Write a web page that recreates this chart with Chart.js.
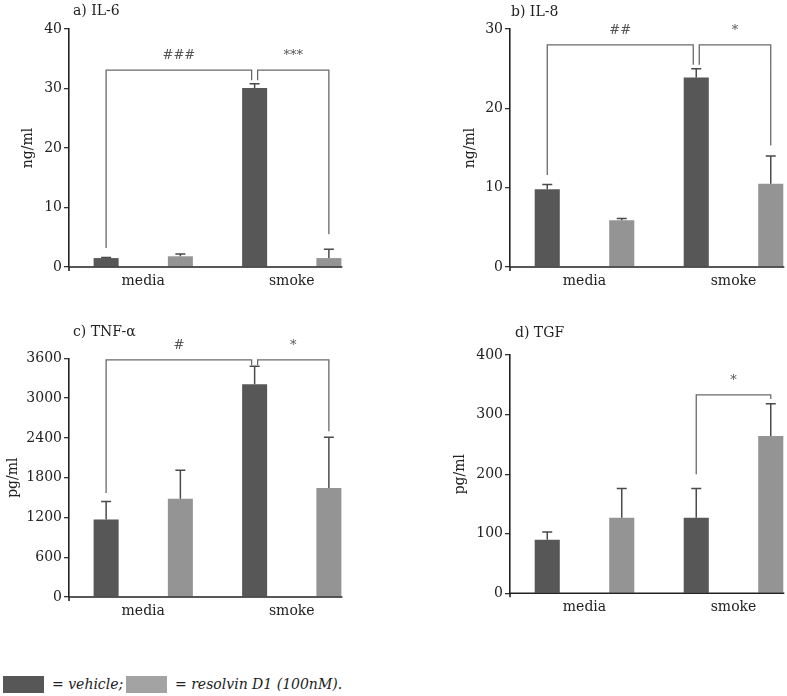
<!DOCTYPE html>
<html><head><meta charset="utf-8">
<script src="https://cdn.jsdelivr.net/npm/chart.js@4/dist/chart.umd.min.js"></script>
<style>
html,body{margin:0;padding:0;width:787px;height:696px;overflow:hidden;background:#fff;position:relative}
canvas{position:absolute}
#legend{position:absolute;left:0;top:676px;height:17px;font-family:"DejaVu Serif",serif;font-style:italic;font-size:14px;color:#222;white-space:nowrap}
#legend span.sw{position:absolute;top:0;height:17px;width:41px}
#legend span.tx{position:absolute;top:0;line-height:17px}
</style></head>
<body>
<canvas id="ca" width="395" height="312" style="left:0;top:0"></canvas>
<canvas id="cb" width="420" height="312" style="left:400px;top:0"></canvas>
<canvas id="cc" width="395" height="320" style="left:0;top:312px"></canvas>
<canvas id="cd" width="420" height="320" style="left:400px;top:312px"></canvas>
<div id="legend">
  <span class="sw" style="left:3px;background:#575757"></span><span class="tx" style="left:52px">= vehicle;</span>
  <span class="sw" style="left:126px;background:#a3a3a3"></span><span class="tx" style="left:175px">= resolvin D1 (100nM).</span>
</div>
<script>
// ---- data ----
const categories = ['media', 'smoke'];
const seriesNames = ['vehicle', 'resolvin D1 (100nM)'];

// a) IL-6 (ng/ml)
const il6Vehicle = [1.5, 30.1];
const il6VehicleSem = [0.1, 0.7];
const il6Resolvin = [1.8, 1.5];
const il6ResolvinSem = [0.4, 1.5];
// b) IL-8 (ng/ml)
const il8Vehicle = [9.8, 23.9];
const il8VehicleSem = [0.6, 1.1];
const il8Resolvin = [5.9, 10.5];
const il8ResolvinSem = [0.2, 3.5];
// c) TNF-α (pg/ml)
const tnfVehicle = [1170, 3210];
const tnfVehicleSem = [270, 270];
const tnfResolvin = [1480, 1645];
const tnfResolvinSem = [430, 765];
// d) TGF (pg/ml)
const tgfVehicle = [90, 127];
const tgfVehicleSem = [13, 49];
const tgfResolvin = [127, 264];
const tgfResolvinSem = [49, 54];

// y-axis ranges / tick steps
const yMaxes = [40, 30, 3600, 400];
const ySteps = [10, 10, 600, 100];
const titles = ['a) IL-6', 'b) IL-8', 'c) TNF-\u03b1', 'd) TGF'];
const units = ['ng/ml', 'ng/ml', 'pg/ml', 'pg/ml'];

// significance brackets: endpoints are [series, category]; heights in data units
const il6Brackets = [
  {label: '###', from: [0, 0], to: [0, 1], top: 33.1, fromEnd: 3.2, toEnd: 31.4},
  {label: '***', from: [0, 1], to: [1, 1], top: 33.1, fromEnd: 31.4, toEnd: 5.5}
];
const il8Brackets = [
  {label: '##', from: [0, 0], to: [0, 1], top: 28.0, fromEnd: 11.6, toEnd: 25.5},
  {label: '*', from: [0, 1], to: [1, 1], top: 28.0, fromEnd: 25.5, toEnd: 15.3}
];
const tnfBrackets = [
  {label: '#', from: [0, 0], to: [0, 1], top: 3575, fromEnd: 1570, toEnd: 3500},
  {label: '*', from: [0, 1], to: [1, 1], top: 3575, fromEnd: 3500, toEnd: 2500}
];
const tgfBrackets = [
  {label: '*', from: [0, 1], to: [1, 1], top: 333, fromEnd: 200, toEnd: 326}
];

// ---- layout / style ----
const FONT = '"DejaVu Serif", serif';
const DARK = '#575757', LIGHT = '#949494';
const layouts = [
  {id: 'ca', yw: 69, pad: {left: 0, top: 29, right: 29, bottom: 15}, xh: 30, titlePad: 19.6, tx: 73, ty: 11},
  {id: 'cb', yw: 110, pad: {left: 0, top: 29, right: 12, bottom: 15}, xh: 30, titlePad: 61.6, tx: 111, ty: 12},
  {id: 'cc', yw: 69, pad: {left: 0, top: 46.3, right: 29, bottom: 5}, xh: 30, titlePad: 4.6, tx: 73, ty: 20},
  {id: 'cd', yw: 110, pad: {left: 0, top: 43, right: 12, bottom: 8.7}, xh: 30, titlePad: 51.6, tx: 115, ty: 21}
];
const panelData = [
  [il6Vehicle, il6VehicleSem, il6Resolvin, il6ResolvinSem, il6Brackets],
  [il8Vehicle, il8VehicleSem, il8Resolvin, il8ResolvinSem, il8Brackets],
  [tnfVehicle, tnfVehicleSem, tnfResolvin, tnfResolvinSem, tnfBrackets],
  [tgfVehicle, tgfVehicleSem, tgfResolvin, tgfResolvinSem, tgfBrackets]
];

const annot = {
  id: 'annot',
  afterDatasetsDraw(chart) {
    const p = chart.options.plugins.annot;
    const {ctx, chartArea: ca} = chart;
    const y = chart.scales.y;
    ctx.save();
    // error bars
    p.sems.forEach((sems, di) => {
      const meta = chart.getDatasetMeta(di);
      meta.data.forEach((bar, i) => {
        const v = chart.data.datasets[di].data[i];
        const yt = y.getPixelForValue(v + sems[i]);
        ctx.strokeStyle = '#4a4a4a';
        ctx.lineWidth = 1.5;
        ctx.beginPath();
        ctx.moveTo(bar.x, bar.y);
        ctx.lineTo(bar.x, yt);
        ctx.moveTo(bar.x - 5, yt);
        ctx.lineTo(bar.x + 5, yt);
        ctx.stroke();
      });
    });
    // baseline
    const y0 = y.getPixelForValue(0);
    const last = chart.getDatasetMeta(1).data[1];
    ctx.strokeStyle = '#222';
    ctx.lineWidth = 1.6;
    ctx.beginPath();
    ctx.moveTo(ca.left, y0);
    ctx.lineTo(last.x + last.width / 2 + 1, y0);
    ctx.moveTo(ca.left, y0);
    ctx.lineTo(ca.left, y0 + 4);
    ctx.stroke();
    // brackets
    const asFrom = new Set(p.brackets.map(b => b.from.join()));
    const asTo = new Set(p.brackets.map(b => b.to.join()));
    const shared = k => asFrom.has(k) && asTo.has(k);
    p.brackets.forEach(b => {
      const bf = chart.getDatasetMeta(b.from[0]).data[b.from[1]];
      const bt = chart.getDatasetMeta(b.to[0]).data[b.to[1]];
      const xf = bf.x + (shared(b.from.join()) ? 3 : 0);
      const xt = bt.x - (shared(b.to.join()) ? 3 : 0);
      const yTop = y.getPixelForValue(b.top);
      ctx.strokeStyle = '#6a6a6a';
      ctx.lineWidth = 1.3;
      ctx.beginPath();
      ctx.moveTo(xf, y.getPixelForValue(b.fromEnd));
      ctx.lineTo(xf, yTop);
      ctx.lineTo(xt, yTop);
      ctx.lineTo(xt, y.getPixelForValue(b.toEnd));
      ctx.stroke();
      ctx.fillStyle = '#555';
      ctx.font = '13px ' + FONT;
      ctx.textAlign = 'center';
      ctx.textBaseline = 'alphabetic';
      ctx.fillText(b.label, (xf + xt) / 2, yTop - 11);
    });
    // panel title
    ctx.fillStyle = '#222';
    ctx.font = '14px ' + FONT;
    ctx.textAlign = 'left';
    ctx.textBaseline = 'middle';
    ctx.fillText(p.title, p.tx, p.ty);
    ctx.restore();
  }
};

layouts.forEach((L, k) => {
  const [veh, vehSem, res, resSem, brackets] = panelData[k];
  new Chart(document.getElementById(L.id), {
    type: 'bar',
    data: {
      labels: categories,
      datasets: [
        {label: seriesNames[0], data: veh, backgroundColor: DARK},
        {label: seriesNames[1], data: res, backgroundColor: LIGHT}
      ]
    },
    options: {
      responsive: false,
      animation: false,
      layout: {padding: L.pad},
      datasets: {bar: {categoryPercentage: 1, barPercentage: 0.337}},
      scales: {
        x: {
          grid: {display: false, drawTicks: false},
          border: {display: false},
          ticks: {font: {family: FONT, size: 14}, color: '#222', padding: 6},
          afterFit(s) { s.height = L.xh; }
        },
        y: {
          min: 0, max: yMaxes[k],
          grid: {drawOnChartArea: false, drawTicks: true, tickLength: 5, color: '#333', lineWidth: 1.3},
          border: {display: true, color: '#222', width: 1.6},
          ticks: {stepSize: ySteps[k], font: {family: FONT, size: 14}, color: '#222', padding: 2,
                  callback: v => String(v)},
          title: {display: true, text: units[k], font: {family: FONT, size: 14}, color: '#222',
                  padding: {top: L.titlePad, bottom: 0}},
          afterFit(s) { s.width = L.yw; }
        }
      },
      plugins: {
        legend: {display: false},
        tooltip: {enabled: false},
        annot: {sems: [vehSem, resSem], brackets: brackets, title: titles[k], tx: L.tx, ty: L.ty}
      }
    },
    plugins: [annot]
  });
});
</script>
</body></html>
